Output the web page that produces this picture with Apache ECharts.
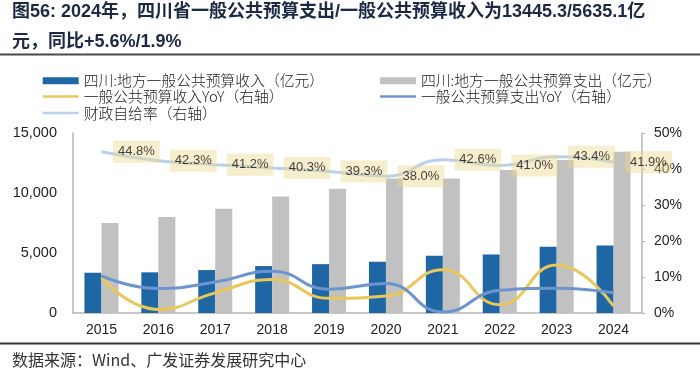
<!DOCTYPE html>
<html>
<head>
<meta charset="utf-8">
<script src="https://cdn.jsdelivr.net/npm/echarts@6/dist/echarts.min.js"></script>
<style>
html,body{margin:0;padding:0;background:#fff;}
#chart{width:700px;height:372px;}
</style>
</head>
<body>
<div id="chart"></div>
<script>
var categories = ['2015','2016','2017','2018','2019','2020','2021','2022','2023','2024'];
var revenue = [3355.4, 3388.9, 3577.9, 3911.0, 4070.8, 4260.9, 4773.3, 4882.2, 5529.1, 5635.1];
var expenditure = [7497.5, 8008.9, 8694.8, 9707.5, 10348.2, 11200.7, 11215.6, 11914.4, 12740.0, 13445.3];
var revenueYoY = [9.8, 1.0, 5.6, 9.3, 4.1, 4.7, 12.0, 2.3, 13.3, 1.9];
var expenditureYoY = [10.3, 6.8, 8.6, 11.6, 6.6, 8.2, 0.3, 6.3, 6.9, 5.6];
var selfRatio = [44.8, 42.3, 41.2, 40.3, 39.3, 38.0, 42.6, 41.0, 43.4, 41.9];
var leftTicks = {min: 0, max: 15000, interval: 5000};
var rightTicks = {min: 0, max: 50, interval: 10};

var names = {
  rev: '四川:地方一般公共预算收入（亿元）',
  exp: '四川:地方一般公共预算支出（亿元）',
  revY: '一般公共预算收入YoY（右轴）',
  expY: '一般公共预算支出YoY（右轴）',
  ratio: '财政自给率（右轴）'
};
var cjk = '"Noto Sans CJK SC", sans-serif';
var latin = '"Liberation Sans", Arial, "Noto Sans CJK SC", sans-serif';

function lg(left, top, name, h) {
  return {
    left: left, top: top, padding: 0, itemWidth: 36, itemHeight: h, itemGap: 5,
    icon: 'rect',
    data: [name], selectedMode: false,
    textStyle: {fontSize: 14.8, color: '#222', fontFamily: cjk, fontWeight: 300}
  };
}

var chart = echarts.init(document.getElementById('chart'), null, {renderer: 'canvas'});
chart.setOption({
  animation: false,
  title: {
    text: '图56: 2024年，四川省一般公共预算支出/一般公共预算收入为13445.3/5635.1亿\n元，同比+5.6%/1.9%',
    left: 12, top: -3, padding: 0,
    textStyle: {fontSize: 18, fontWeight: 'bold', color: '#1c2945', lineHeight: 30, fontFamily: latin}
  },
  graphic: [
    {type: 'line', shape: {x1: 0, y1: 54.5, x2: 700, y2: 54.5}, style: {stroke: '#4a4a4a', lineWidth: 2}},
    {type: 'line', shape: {x1: 0, y1: 343.5, x2: 700, y2: 343.5}, style: {stroke: '#333', lineWidth: 2}},
    {type: 'text', x: 12, y: 360, style: {text: '数据来源：Wind、广发证券发展研究中心', fontSize: 16, fill: '#333', fontFamily: cjk, verticalAlign: 'middle'}}
  ],
  legend: [
    lg(42.7, 73.3, names.rev, 7),
    lg(380, 73.3, names.exp, 7),
    lg(42.7, 89, names.revY, 2.5),
    lg(380, 89, names.expY, 2.5),
    lg(42.7, 105.7, names.ratio, 2.5)
  ],
  grid: {left: 73, right: 58, top: 133, bottom: 59, containLabel: false},
  xAxis: {
    type: 'category', data: categories, boundaryGap: true,
    axisLine: {show: true, lineStyle: {color: '#b5b5b5', width: 1.5}},
    axisTick: {show: false},
    axisLabel: {margin: 10, fontSize: 14, color: '#222', fontFamily: latin},
    splitLine: {show: false}
  },
  yAxis: [
    {
      type: 'value', min: leftTicks.min, max: leftTicks.max, interval: leftTicks.interval,
      axisLine: {show: true, lineStyle: {color: '#b5b5b5', width: 1.5}},
      axisTick: {show: false},
      splitLine: {show: false},
      axisLabel: {margin: 16, fontSize: 14.5, color: '#222', fontFamily: latin,
        formatter: function (v) { return v.toLocaleString('en-US'); }}
    },
    {
      type: 'value', min: rightTicks.min, max: rightTicks.max, interval: rightTicks.interval,
      position: 'right',
      axisLine: {show: true, lineStyle: {color: '#b5b5b5', width: 1.5}},
      axisTick: {show: true, length: 3, lineStyle: {color: '#b5b5b5'}},
      splitLine: {show: false},
      axisLabel: {margin: 12, fontSize: 14, color: '#222', fontFamily: latin, formatter: '{value}%'}
    }
  ],
  series: [
    {name: names.rev, type: 'bar', data: revenue, barWidth: 17, barGap: '0%', itemStyle: {color: '#1f67a4'}},
    {name: names.exp, type: 'bar', data: expenditure, barWidth: 17, barGap: '0%', itemStyle: {color: '#c1c1c1'}},
    {name: names.ratio, type: 'line', yAxisIndex: 1, data: selfRatio, smooth: true, symbol: 'none',
      lineStyle: {color: '#b9d1ea', width: 3}, itemStyle: {color: '#b9d1ea'}, z: 3},
    {name: names.revY, type: 'line', yAxisIndex: 1, data: revenueYoY, smooth: true, symbol: 'none',
      lineStyle: {color: '#e9c75a', width: 3}, itemStyle: {color: '#e9c75a'}, z: 4},
    {name: names.expY, type: 'line', yAxisIndex: 1, data: expenditureYoY, smooth: true, symbol: 'none',
      lineStyle: {color: '#6d94cf', width: 3}, itemStyle: {color: '#6d94cf'}, z: 4},
    {name: 'ratioLabels', type: 'scatter', yAxisIndex: 1, data: selfRatio, symbolSize: 1, silent: true, z: 10,
      itemStyle: {color: 'rgba(0,0,0,0)'},
      label: {show: true, position: 'right', distance: 11,
        formatter: function (p) { return p.value.toFixed(1) + '%'; },
        backgroundColor: 'rgba(236,217,143,0.55)', padding: [5, 5, 4, 5],
        fontSize: 13, color: '#111', fontFamily: latin}}
  ]
});
</script>
</body>
</html>
